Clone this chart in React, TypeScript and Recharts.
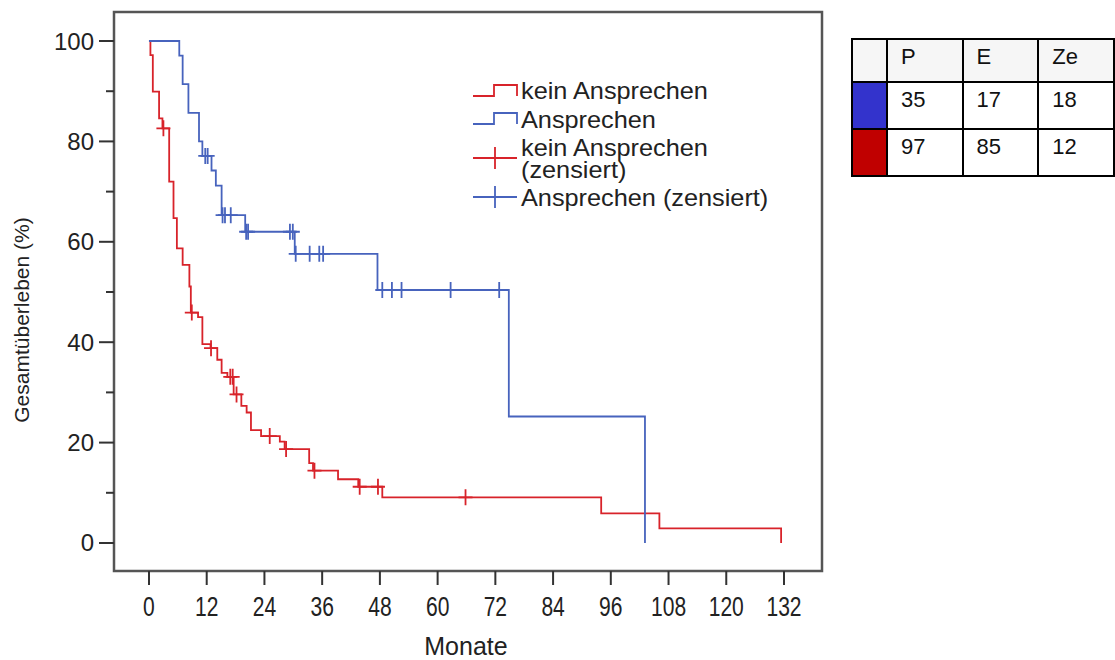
import React from 'react';
import {
  ComposedChart,
  Line,
  Scatter,
  XAxis,
  YAxis,
  ReferenceArea,
} from 'recharts';

// Kaplan-Meier: Gesamtüberleben nach Ansprechen
const noRespTimes = [0, 0.3, 0.8, 2.1, 2.8, 4.2, 5.1, 5.8, 7.0, 8.4, 8.7, 10.2, 11.1, 12.8, 14.2, 15.1, 16.3, 17.6, 19.2, 20.3, 21.2, 23.3, 27.2, 28.2, 33.3, 34.1, 39.3, 43.5, 48.5, 94.0, 106.1, 131.4];
const noRespSurvival = [100, 97.2, 89.9, 84.6, 82.6, 72.0, 64.7, 58.7, 55.4, 51.1, 45.9, 45.0, 39.6, 38.8, 36.5, 33.9, 33.1, 29.6, 27.3, 26.0, 22.5, 21.3, 20.2, 18.7, 15.9, 14.4, 12.7, 11.2, 9.1, 5.9, 2.9, 0];
const noRespCensTimes = [3.0, 8.9, 12.9, 16.9, 17.4, 18.2, 25.1, 28.5, 34.4, 43.8, 47.6, 65.8];
const noRespCensSurvival = [82.6, 45.9, 38.8, 33.1, 33.1, 29.6, 21.3, 18.7, 14.4, 11.2, 11.2, 9.1];

const respTimes = [0, 6.3, 7.0, 8.2, 10.4, 11.1, 13.0, 13.9, 15.1, 20.0, 30.3, 47.5, 74.8, 103.1];
const respSurvival = [100, 97.1, 91.4, 85.7, 80.0, 77.1, 74.2, 71.2, 65.3, 62.0, 57.6, 50.4, 25.2, 0];
const respCensTimes = [11.7, 12.2, 15.3, 15.8, 17.0, 20.2, 20.6, 29.3, 29.9, 30.5, 33.4, 35.4, 36.2, 48.5, 50.5, 52.5, 62.7, 72.8];
const respCensSurvival = [77.1, 77.1, 65.3, 65.3, 65.3, 62.0, 62.0, 62.0, 62.0, 57.6, 57.6, 57.6, 57.6, 50.4, 50.4, 50.4, 50.4, 50.4];

const monthTicks = [0, 12, 24, 36, 48, 60, 72, 84, 96, 108, 120, 132];
const percentTicks = [0, 10, 20, 30, 40, 50, 60, 70, 80, 90, 100];

const legendLabels = ['kein Ansprechen', 'Ansprechen', 'kein Ansprechen (zensiert)', 'Ansprechen (zensiert)'];

// Fallzusammenfassung: Gesamtzahl, Ereignisse, zensiert
const tableHeaders = ['P', 'E', 'Ze'];
const tableRowColors = ['#3333cc', '#c00000'];
const tableRows = [
  [35, 17, 18],
  [97, 85, 12],
];

const RED = '#d8232a';
const BLUE = '#4763bd';
const FONT = '"Liberation Sans", Arial, sans-serif';

const PLOT_LEFT = 114;
const PLOT_BOTTOM = 571;

const zip = (t: number[], s: number[]) => t.map((v, i) => ({ t: v, s: s[i] }));

const noRespCurve = zip(noRespTimes, noRespSurvival);
const respCurve = zip(respTimes, respSurvival);
const noRespCensored = zip(noRespCensTimes, noRespCensSurvival);
const respCensored = zip(respCensTimes, respCensSurvival);

const crossShape = (color: string) => (props: any) => {
  const { cx, cy } = props;
  return (
    <path
      d={`M${cx - 7},${cy}h14M${cx},${cy - 8}v16`}
      stroke={color}
      strokeWidth={1.8}
      fill='none'
    />
  );
};

const MonthTick = ({ x, payload }: any) => (
  <g>
    <line x1={x} x2={x} y1={PLOT_BOTTOM} y2={PLOT_BOTTOM + 14} stroke='#333' strokeWidth={2} />
    <text
      transform={`translate(${x},${PLOT_BOTTOM + 45}) scale(0.78,1)`}
      textAnchor='middle'
      fontSize={27}
      fontFamily={FONT}
      fill='#222'
    >
      {payload.value}
    </text>
  </g>
);

const PercentTick = ({ y, payload }: any) => {
  const major = payload.value % 20 === 0;
  return (
    <g>
      <line x1={PLOT_LEFT - (major ? 15 : 8)} x2={PLOT_LEFT} y1={y} y2={y} stroke='#333' strokeWidth={2} />
      {major ? (
        <text x={94} y={y + 8.5} textAnchor='end' fontSize={24} fontFamily={FONT} fill='#222'>
          {payload.value}
        </text>
      ) : null}
    </g>
  );
};

function LegendText({ x, y, children }: { x: number; y: number; children: React.ReactNode }) {
  return (
    <text
      transform={`translate(${x},${y}) scale(1.1,1)`}
      fontSize={23}
      fontFamily={FONT}
      fill='#222'
    >
      {children}
    </text>
  );
}

function LegendBox() {
  return (
    <svg
      width={330}
      height={150}
      style={{ position: 'absolute', left: 460, top: 70 }}
    >
      <path d='M13,26H34V15H57V26' stroke={RED} strokeWidth={1.8} fill='none' />
      <LegendText x={61} y={29}>{legendLabels[0]}</LegendText>
      <path d='M13,54H34V43H57V54' stroke={BLUE} strokeWidth={1.8} fill='none' />
      <LegendText x={61} y={58}>{legendLabels[1]}</LegendText>
      <path d='M13,88H57M35,77V99' stroke={RED} strokeWidth={1.8} fill='none' />
      <LegendText x={61} y={86}>kein Ansprechen</LegendText>
      <LegendText x={61} y={108}>(zensiert)</LegendText>
      <path d='M13,127H57M35,116V138' stroke={BLUE} strokeWidth={1.8} fill='none' />
      <LegendText x={61} y={136}>{legendLabels[3]}</LegendText>
    </svg>
  );
}

function CaseTable() {
  const border = '2px solid #000';
  const cell: React.CSSProperties = {
    border,
    width: 78,
    padding: '4px 0 0 13px',
    verticalAlign: 'top',
    boxSizing: 'border-box',
    textAlign: 'left',
    fontFamily: FONT,
    fontSize: 22,
    color: '#111',
  };
  return (
    <table
      style={{
        position: 'absolute',
        left: 851,
        top: 38,
        borderCollapse: 'collapse',
        tableLayout: 'fixed',
      }}
    >
      <tbody>
        <tr style={{ height: 43, background: '#f6f6f6' }}>
          <td style={{ ...cell, width: 37, padding: 0 }} />
          {tableHeaders.map((h) => (
            <td key={h} style={cell}>{h}</td>
          ))}
        </tr>
        {tableRows.map((row, i) => (
          <tr key={i} style={{ height: 47, background: '#fff' }}>
            <td style={{ ...cell, width: 37, padding: 0, background: tableRowColors[i] }} />
            {row.map((v, j) => (
              <td key={j} style={cell}>{v}</td>
            ))}
          </tr>
        ))}
      </tbody>
    </table>
  );
}

export default function App() {
  return (
    <div
      style={{
        position: 'absolute',
        left: 0,
        top: 0,
        width: 1115,
        height: 660,
        overflow: 'hidden',
        background: '#fff',
      }}
    >
      <ComposedChart
        width={830}
        height={660}
        margin={{ top: 12, right: 8, bottom: 0, left: 0 }}
      >
        <XAxis
          dataKey='t'
          type='number'
          domain={[-7.27, 139.9]}
          allowDataOverflow
          ticks={monthTicks}
          interval={0}
          height={89}
          axisLine={false}
          tickLine={false}
          tick={<MonthTick />}
        />
        <YAxis
          dataKey='s'
          type='number'
          domain={[-5.58, 105.78]}
          allowDataOverflow
          ticks={percentTicks}
          interval={0}
          width={114}
          axisLine={false}
          tickLine={false}
          tick={<PercentTick />}
        />
        <ReferenceArea
          x1={-7.27}
          x2={139.9}
          y1={-5.58}
          y2={105.78}
          fill='none'
          fillOpacity={0}
          stroke='#555'
          strokeWidth={2.5}
          ifOverflow='visible'
        />
        <Line
          data={noRespCurve}
          dataKey='s'
          type='stepAfter'
          stroke={RED}
          strokeWidth={1.8}
          dot={false}
          activeDot={false}
          isAnimationActive={false}
        />
        <Line
          data={respCurve}
          dataKey='s'
          type='stepAfter'
          stroke={BLUE}
          strokeWidth={1.8}
          dot={false}
          activeDot={false}
          isAnimationActive={false}
        />
        <Scatter
          data={noRespCensored}
          dataKey='s'
          shape={crossShape(RED)}
          isAnimationActive={false}
        />
        <Scatter
          data={respCensored}
          dataKey='s'
          shape={crossShape(BLUE)}
          isAnimationActive={false}
        />
        <text
          x={466}
          y={655}
          textAnchor='middle'
          fontSize={25}
          fontFamily={FONT}
          fill='#222'
        >
          Monate
        </text>
        <text
          transform='translate(29,320) rotate(-90)'
          textAnchor='middle'
          fontSize={21}
          fontFamily={FONT}
          fill='#222'
        >
          Gesamtüberleben (%)
        </text>
      </ComposedChart>
      <LegendBox />
      <CaseTable />
    </div>
  );
}
